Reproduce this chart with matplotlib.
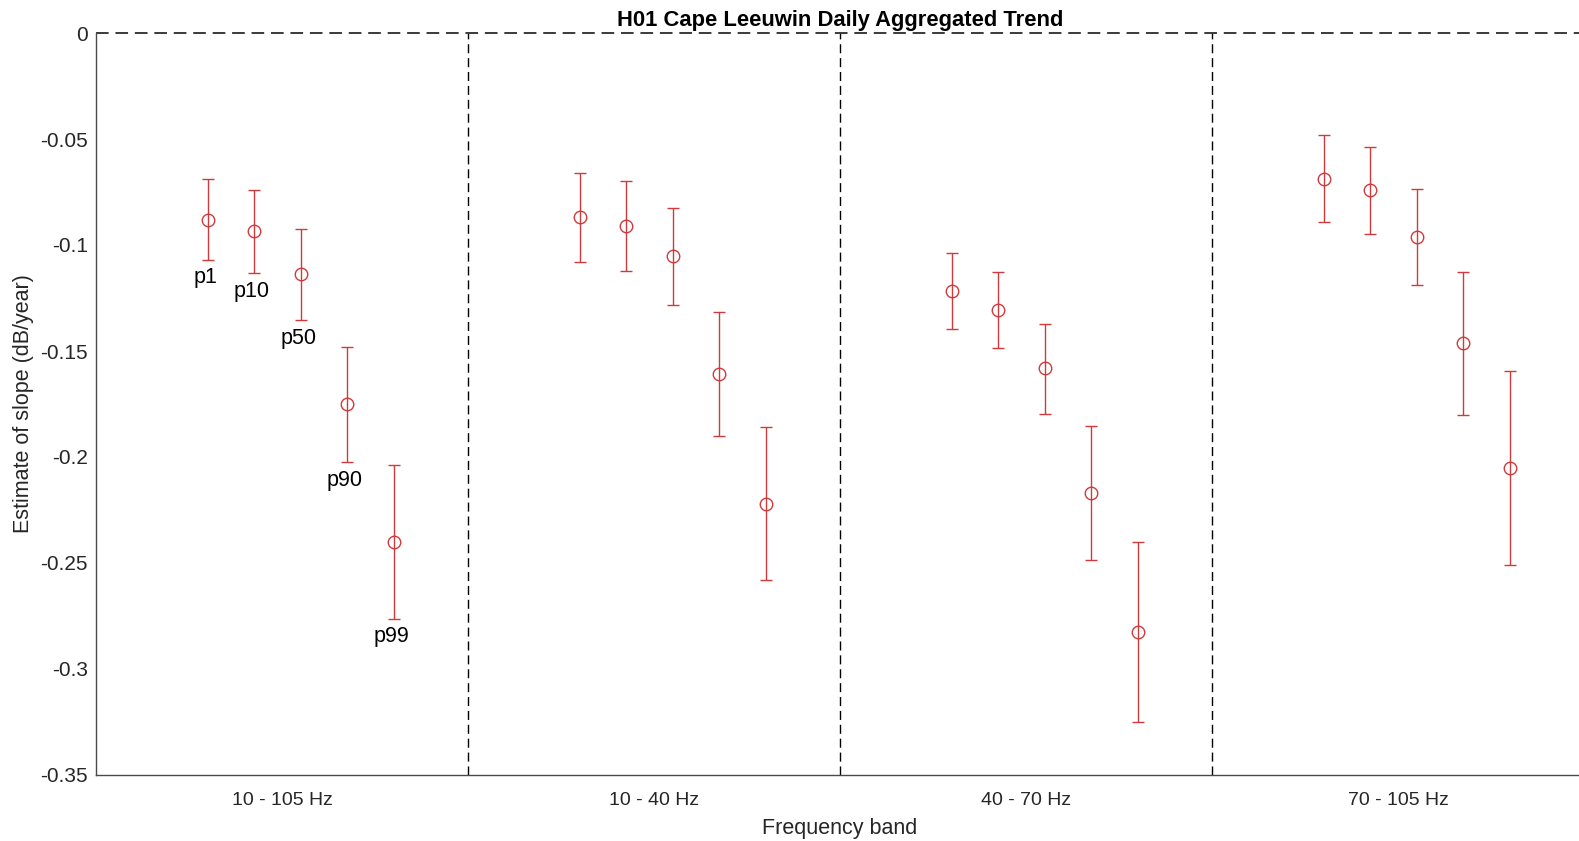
import matplotlib
matplotlib.use("Agg")
import matplotlib.pyplot as plt
import numpy as np

plt.rcParams['font.family'] = ['Liberation Sans', 'DejaVu Sans']

bands = ['10 - 105 Hz', '10 - 40 Hz', '40 - 70 Hz', '70 - 105 Hz']
pct_labels = ['p1', 'p10', 'p50', 'p90', 'p99']

# slope estimate per band, one value per percentile
slope = [
    [-0.088, -0.0934, -0.1137, -0.175, -0.240],
    [-0.0868, -0.0909, -0.1053, -0.1608, -0.222],
    [-0.1217, -0.1307, -0.1582, -0.2168, -0.2827],
    [-0.0689, -0.0742, -0.0961, -0.1464, -0.2052],
]
# lower / upper bounds of the confidence interval
lower = [
    [-0.107, -0.1132, -0.1354, -0.2025, -0.2763],
    [-0.1082, -0.1121, -0.1285, -0.1901, -0.258],
    [-0.1396, -0.1487, -0.1796, -0.2486, -0.3252],
    [-0.089, -0.095, -0.119, -0.1802, -0.2509],
]
upper = [
    [-0.069, -0.0742, -0.0923, -0.148, -0.204],
    [-0.0662, -0.0697, -0.0824, -0.1318, -0.186],
    [-0.1036, -0.1127, -0.1371, -0.1852, -0.2403],
    [-0.0483, -0.0538, -0.0734, -0.1127, -0.1593],
]

red = '#d03a3c'
txt = '#262626'

fig = plt.figure(figsize=(15.79, 8.41), dpi=100)
ax = fig.add_axes([96 / 1579, 66 / 841, 1488 / 1579, 742 / 841])

offsets = 0.3 + 0.125 * np.arange(len(pct_labels))
for g in range(len(bands)):
    x = g + offsets
    y = np.array(slope[g])
    lo = y - np.array(lower[g])
    hi = np.array(upper[g]) - y
    ax.errorbar(x, y, yerr=[lo, hi], fmt='o', color=red, mfc='none',
                mec=red, ms=9, mew=1.0, elinewidth=1.0, capsize=4,
                capthick=1.0)
    if g == 0:
        for xi, lb, name in zip(x, lower[g], pct_labels):
            ax.annotate(name, (xi, lb), xytext=(-1.5, -13),
                        textcoords='offset points', ha='center', va='center',
                        fontsize=15.5, color='black')

# band separators and zero line
for g in range(1, len(bands)):
    ax.axvline(g, color='black', lw=1.0, ls=(0, (6.5, 3.5)))
ax.axhline(0, color='#3a3a3a', lw=1.4, ls=(0, (6.5, 3.5)), clip_on=False)

ax.set_xlim(0, len(bands))
ax.set_ylim(-0.35, 0)
ax.set_xticks(np.arange(len(bands)) + 0.5)
ax.set_xticklabels(bands)
yt = np.arange(-0.35, 0.001, 0.05)
ax.set_yticks(yt)
ax.set_yticklabels(['%g' % (round(v, 2) + 0.0) for v in yt])
ax.tick_params(length=0, labelcolor=txt)
ax.tick_params(axis='x', pad=12, labelsize=14)
ax.tick_params(axis='y', pad=6, labelsize=15)

for s in ['top', 'right']:
    ax.spines[s].set_visible(False)
for s in ['left', 'bottom']:
    ax.spines[s].set_color('#4a4a4a')
    ax.spines[s].set_linewidth(1.0)

ax.set_title('H01 Cape Leeuwin Daily Aggregated Trend', fontsize=15.8,
             fontweight='bold', color='black', pad=5)
ax.set_xlabel('Frequency band', fontsize=15.5, color=txt, labelpad=7)
ax.set_ylabel('Estimate of slope (dB/year)', fontsize=15.5, color=txt,
              labelpad=4)

fig.savefig('out.png', dpi=100)
